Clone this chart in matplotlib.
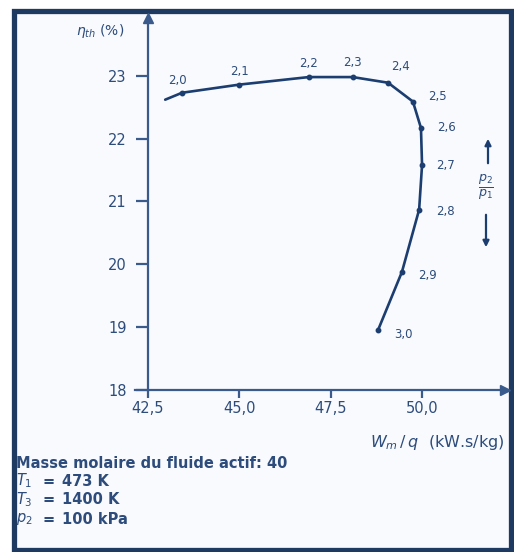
import matplotlib
matplotlib.use("Agg")
import matplotlib.pyplot as plt
from matplotlib.patches import Rectangle, FancyArrowPatch

# pressure ratio p2/p1 along the curve, with specific work and thermal efficiency
ratio_labels = ["2,0", "2,1", "2,2", "2,3", "2,4", "2,5", "2,6", "2,7", "2,8", "2,9", "3,0"]
work = [43.43, 45.0, 46.9, 48.1, 49.07, 49.75, 49.97, 50.0, 49.92, 49.45, 48.8]
efficiency = [22.73, 22.86, 22.98, 22.98, 22.89, 22.59, 22.17, 21.58, 20.87, 19.88, 18.96]
# the drawn curve starts a little left of the 2,0 point
curve_start = (42.97, 22.62)

x_ticks = [42.5, 45.0, 47.5, 50.0]
x_tick_labels = ["42,5", "45,0", "47,5", "50,0"]
y_ticks = [18, 19, 20, 21, 22, 23]

# label offsets in pixels relative to each point
label_offsets = [(-5, 12), (0, 13), (0, 14), (0, 15), (12, 16), (25, 5),
                 (26, 0), (23, 0), (26, -2), (26, -4), (25, -5)]

W, H = 514, 552
navy = "#1c3d70"
text_col = "#2d4c7c"
axis_col = "#3a5a8c"

fig = plt.figure(figsize=(W / 100, H / 100), dpi=100)
fig.patch.set_facecolor("white")


def fx(px):
    return px / W


def fy(py):
    return 1 - py / H


# framed panel
fig.patches.append(Rectangle((fx(13.5), fy(549.5)), fx(511) - fx(13.5), fy(10.5) - fy(549.5),
                             transform=fig.transFigure, facecolor="#f8fafd",
                             edgecolor="#1f3a60", lw=3.8, zorder=-5))

ax = fig.add_axes([fx(135), fy(390), fx(505) - fx(135), fy(18) - fy(390)])
ax.set_facecolor("none")
ax.set_xlim(42.144, 52.27)
ax.set_ylim(18, 23.92)

for s in ["top", "right"]:
    ax.spines[s].set_visible(False)
ax.spines["left"].set_position(("data", 42.5))
for s in ["left", "bottom"]:
    ax.spines[s].set_color(axis_col)
    ax.spines[s].set_linewidth(1.6)

ax.set_xticks(x_ticks)
ax.set_xticklabels(x_tick_labels)
ax.set_yticks(y_ticks)
ax.set_yticklabels([str(v) for v in y_ticks])
ax.tick_params(axis="x", direction="out", length=6, width=1.6, color=axis_col,
               labelsize=10.5, labelcolor=text_col, pad=2)
ax.tick_params(axis="y", direction="out", length=8.5, width=1.6, color=axis_col,
               labelsize=10.5, labelcolor=text_col, pad=7)

# axis arrow heads
ax.plot(1, 18, ">", transform=ax.get_yaxis_transform(), clip_on=False,
        color=axis_col, markersize=7)
ax.plot(42.5, 1, "^", transform=ax.get_xaxis_transform(), clip_on=False,
        color=axis_col, markersize=7)

ax.plot([curve_start[0]] + work, [curve_start[1]] + efficiency, color=navy, lw=1.9,
        solid_capstyle="round", solid_joinstyle="round", zorder=3)
ax.plot(work, efficiency, "o", color=navy, markersize=3.2, zorder=4)

for lab, x, y, (dx, dy) in zip(ratio_labels, work, efficiency, label_offsets):
    ax.annotate(lab, (x, y), xytext=(dx, dy), textcoords="offset pixels",
                ha="center", va="center", fontsize=8.5, color=text_col)

fig.text(fx(100), fy(31), r"$\eta_{th}$ (%)", ha="center", va="center",
         fontsize=10, color=text_col)
fig.text(fx(505), fy(442), r"$W_m\,/\,q$  (kW.s/kg)", ha="right", va="center",
         fontsize=11.5, color=text_col)

# direction of increasing pressure ratio
fig.patches.append(FancyArrowPatch(
    (fx(488), fy(166)), (fx(488), fy(136)), transform=fig.transFigure,
    arrowstyle="-|>", color=navy, lw=1.6, mutation_scale=9))
fig.text(fx(486), fy(187), r"$\frac{p_2}{p_1}$", ha="center", va="center",
         fontsize=13, color=text_col)
fig.patches.append(FancyArrowPatch(
    (fx(486), fy(212)), (fx(486), fy(250)), transform=fig.transFigure,
    arrowstyle="-|>", color=navy, lw=1.6, mutation_scale=9))

# operating conditions
fs_info = 10.5
fig.text(fx(16), fy(463), "Masse molaire du fluide actif: 40", ha="left", va="center",
         fontsize=fs_info, color=text_col, fontweight="bold")
conds = [(r"$T_1$", "473 K"), (r"$T_3$", "1400 K"), (r"$p_2$", "100 kPa")]
for i, (sym, val) in enumerate(conds):
    yy = 481 + i * 19
    fig.text(fx(16), fy(yy), sym, ha="left", va="center", fontsize=fs_info, color=text_col)
    fig.text(fx(43), fy(yy), "=", ha="left", va="center", fontsize=fs_info,
             color=text_col, fontweight="bold")
    fig.text(fx(62), fy(yy), val, ha="left", va="center", fontsize=fs_info,
             color=text_col, fontweight="bold")

fig.savefig("out.png", dpi=100)
